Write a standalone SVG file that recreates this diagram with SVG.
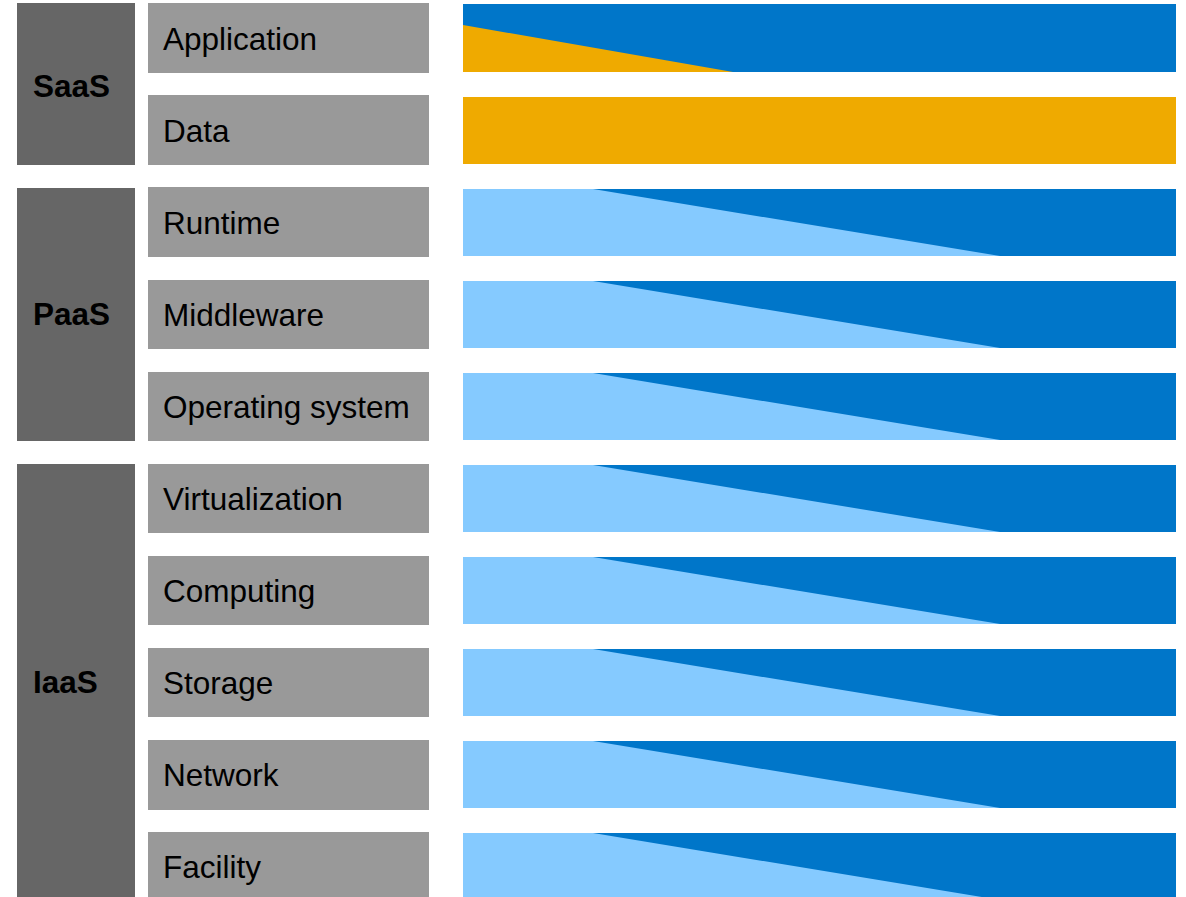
<svg xmlns="http://www.w3.org/2000/svg" width="1186" height="897" viewBox="0 0 1186 897">
<style>
.grp{fill:#666666}
.lbl{fill:#999999}
.dk{fill:#0076C9}
.lt{fill:#85CAFF}
.or{fill:#EFAA00}
.t{font-family:"Liberation Sans",Arial,sans-serif;font-size:31.5px;fill:#000}
.b{font-family:"Liberation Sans",Arial,sans-serif;font-size:31.5px;font-weight:bold;fill:#000}
</style>
<rect width="1186" height="897" fill="#fff"/>
<g id="saas"><rect class="grp" x="17" y="3" width="118" height="162"/><text class="b" x="33" y="96.5">SaaS</text></g>
<g id="paas"><rect class="grp" x="17" y="188" width="118" height="253"/><text class="b" x="33" y="325">PaaS</text></g>
<g id="iaas"><rect class="grp" x="17" y="464" width="118" height="440"/><text class="b" x="33" y="693">IaaS</text></g>

<g id="application"><rect class="lbl" x="148" y="3" width="281" height="70"/><text class="t" x="163" y="50">Application</text></g>
<g id="data"><rect class="lbl" x="148" y="95" width="281" height="70"/><text class="t" x="163" y="141.5">Data</text></g>
<g id="runtime"><rect class="lbl" x="148" y="187" width="281" height="70"/><text class="t" x="163" y="233.5">Runtime</text></g>
<g id="middleware"><rect class="lbl" x="148" y="280" width="281" height="69"/><text class="t" x="163" y="326">Middleware</text></g>
<g id="os"><rect class="lbl" x="148" y="372" width="281" height="69"/><text class="t" x="163" y="418">Operating system</text></g>
<g id="virtualization"><rect class="lbl" x="148" y="464" width="281" height="69"/><text class="t" x="163" y="510">Virtualization</text></g>
<g id="computing"><rect class="lbl" x="148" y="556" width="281" height="69"/><text class="t" x="163" y="602">Computing</text></g>
<g id="storage"><rect class="lbl" x="148" y="648" width="281" height="69"/><text class="t" x="163" y="693.5">Storage</text></g>
<g id="network"><rect class="lbl" x="148" y="740" width="281" height="70"/><text class="t" x="163" y="786">Network</text></g>
<g id="facility"><rect class="lbl" x="148" y="832" width="281" height="70"/><text class="t" x="163" y="878">Facility</text></g>

<g id="bar-application"><rect class="dk" x="463" y="4" width="713" height="68"/><polygon class="or" points="463,25 733,72 463,72"/></g>
<g id="bar-data"><rect class="or" x="463" y="97" width="713" height="67"/></g>
<g id="bar-runtime"><rect class="lt" x="463" y="189" width="713" height="67"/><polygon class="dk" points="593,189 1176,189 1176,256 1000,256"/></g>
<g id="bar-middleware"><rect class="lt" x="463" y="281" width="713" height="67"/><polygon class="dk" points="593,281 1176,281 1176,348 1000,348"/></g>
<g id="bar-os"><rect class="lt" x="463" y="373" width="713" height="67"/><polygon class="dk" points="593,373 1176,373 1176,440 1000,440"/></g>
<g id="bar-virtualization"><rect class="lt" x="463" y="465" width="713" height="67"/><polygon class="dk" points="593,465 1176,465 1176,532 1000,532"/></g>
<g id="bar-computing"><rect class="lt" x="463" y="557" width="713" height="67"/><polygon class="dk" points="593,557 1176,557 1176,624 1000,624"/></g>
<g id="bar-storage"><rect class="lt" x="463" y="649" width="713" height="67"/><polygon class="dk" points="593,649 1176,649 1176,716 1000,716"/></g>
<g id="bar-network"><rect class="lt" x="463" y="741" width="713" height="67"/><polygon class="dk" points="593,741 1176,741 1176,808 1000,808"/></g>
<g id="bar-facility"><rect class="lt" x="463" y="833" width="713" height="67"/><polygon class="dk" points="593,833 1176,833 1176,900 1000,900"/></g>
<g id="connectors"/>
</svg>
